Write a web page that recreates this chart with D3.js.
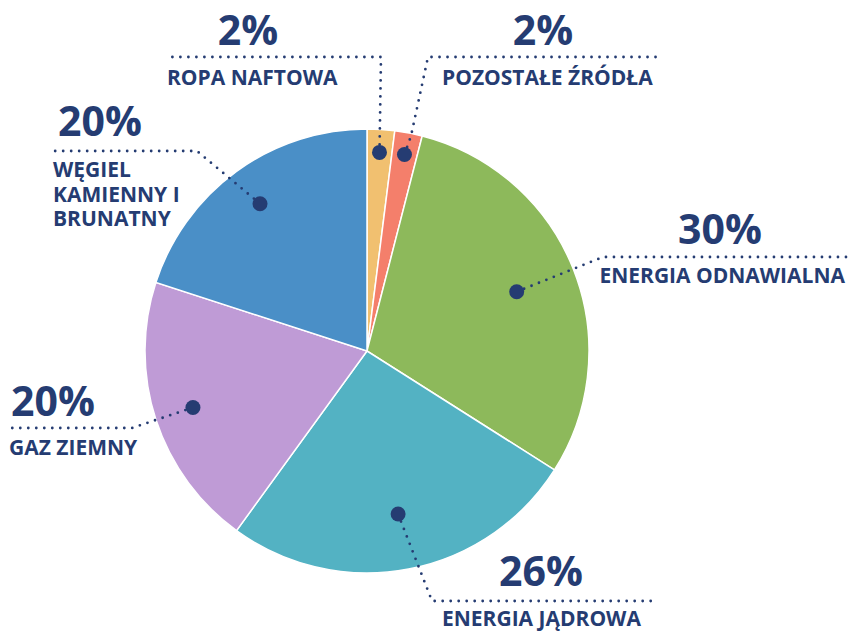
<!DOCTYPE html>
<html>
<head>
<meta charset="utf-8">
<script src="https://cdn.jsdelivr.net/npm/d3@7"></script>
<style>
  body { margin: 0; background: #fff; }
  text { font-family: "Open Sans", sans-serif; font-weight: 700; fill: #253c72; }
</style>
</head>
<body>
<div id="chart"></div>
<script>
// data
var sources = ["ROPA NAFTOWA", "POZOSTAŁE ŹRÓDŁA", "ENERGIA ODNAWIALNA", "ENERGIA JĄDROWA", "GAZ ZIEMNY", "WĘGIEL KAMIENNY I BRUNATNY"];
var shares = [2, 2, 30, 26, 20, 20];
var colors = ["#f1c070", "#f47f6b", "#8db95b", "#53b2c3", "#bf9bd6", "#4a8fc7"];

var width = 851, height = 631;
var cx = 367, cy = 351, radius = 222;
var ink = "#253c72";

// label layout: dot radius, leader path (after the dot), label text lines, anchors
var layout = [
  { dotR: 199, path: [[381, 57], [168, 57]], pct: [248, 45], lines: ["ROPA NAFTOWA"], tx: 167, ty: 85, anchor: "start" },
  { dotR: 200, path: [[411, 136], [428, 57], [656, 57]], pct: [543, 45], lines: ["POZOSTAŁE ŹRÓDŁA"], tx: 442, ty: 85, anchor: "start" },
  { dotR: 161, path: [[603, 257], [846, 257]], pct: [720, 244], lines: ["ENERGIA ODNAWIALNA"], tx: 845, ty: 283, anchor: "end" },
  { dotR: 166, path: [[432, 601], [654, 601]], pct: [541, 586], lines: ["ENERGIA JĄDROWA"], tx: 442, ty: 626, anchor: "start" },
  { dotR: 183, path: [[132, 428], [10, 428]], pct: [53, 416], lines: ["GAZ ZIEMNY"], tx: 9, ty: 455, anchor: "start" },
  { dotR: 182, path: [[197, 151], [55, 151]], pct: [100, 136], lines: ["WĘGIEL", "KAMIENNY I", "BRUNATNY"], tx: 53, ty: 177, anchor: "start" }
];

var svg = d3.select("#chart").append("svg")
    .attr("width", width)
    .attr("height", height);

var pie = d3.pie().sort(null).value(function (d) { return d; });
var arcs = pie(shares);

var arc = d3.arc().innerRadius(0).outerRadius(radius);

var g = svg.append("g").attr("transform", "translate(" + cx + "," + cy + ")");

g.selectAll("path.slice")
    .data(arcs)
    .enter().append("path")
    .attr("class", "slice")
    .attr("d", arc)
    .attr("fill", function (d, i) { return colors[i]; })
    .attr("stroke", "#fff")
    .attr("stroke-width", 1.5);

// leader lines + dots
var line = d3.line();
arcs.forEach(function (d, i) {
    var L = layout[i];
    var c = d3.arc().innerRadius(L.dotR).outerRadius(L.dotR).centroid(d);
    var p = [cx + c[0], cy + c[1]];
    var pts = [p].concat(L.path);

    svg.append("path")
        .attr("d", line(pts))
        .attr("fill", "none")
        .attr("stroke", ink)
        .attr("stroke-width", 2.8)
        .attr("stroke-linecap", "round")
        .attr("stroke-dasharray", "0 8");

    svg.append("circle")
        .attr("cx", p[0])
        .attr("cy", p[1])
        .attr("r", 7.5)
        .attr("fill", ink);

    svg.append("text")
        .attr("x", L.pct[0])
        .attr("y", L.pct[1])
        .attr("text-anchor", "middle")
        .style("font-size", "41px")
        .text(shares[i] + "%");

    // multi-line labels as one text with tspans
    var label = svg.append("text")
        .attr("x", L.tx)
        .attr("y", L.ty)
        .attr("text-anchor", L.anchor)
        .style("font-size", "21px");
    L.lines.forEach(function (t, k) {
        label.append("tspan")
            .attr("x", L.tx)
            .attr("y", L.ty + k * 24.5)
            .text(t);
    });
});
</script>
</body>
</html>
